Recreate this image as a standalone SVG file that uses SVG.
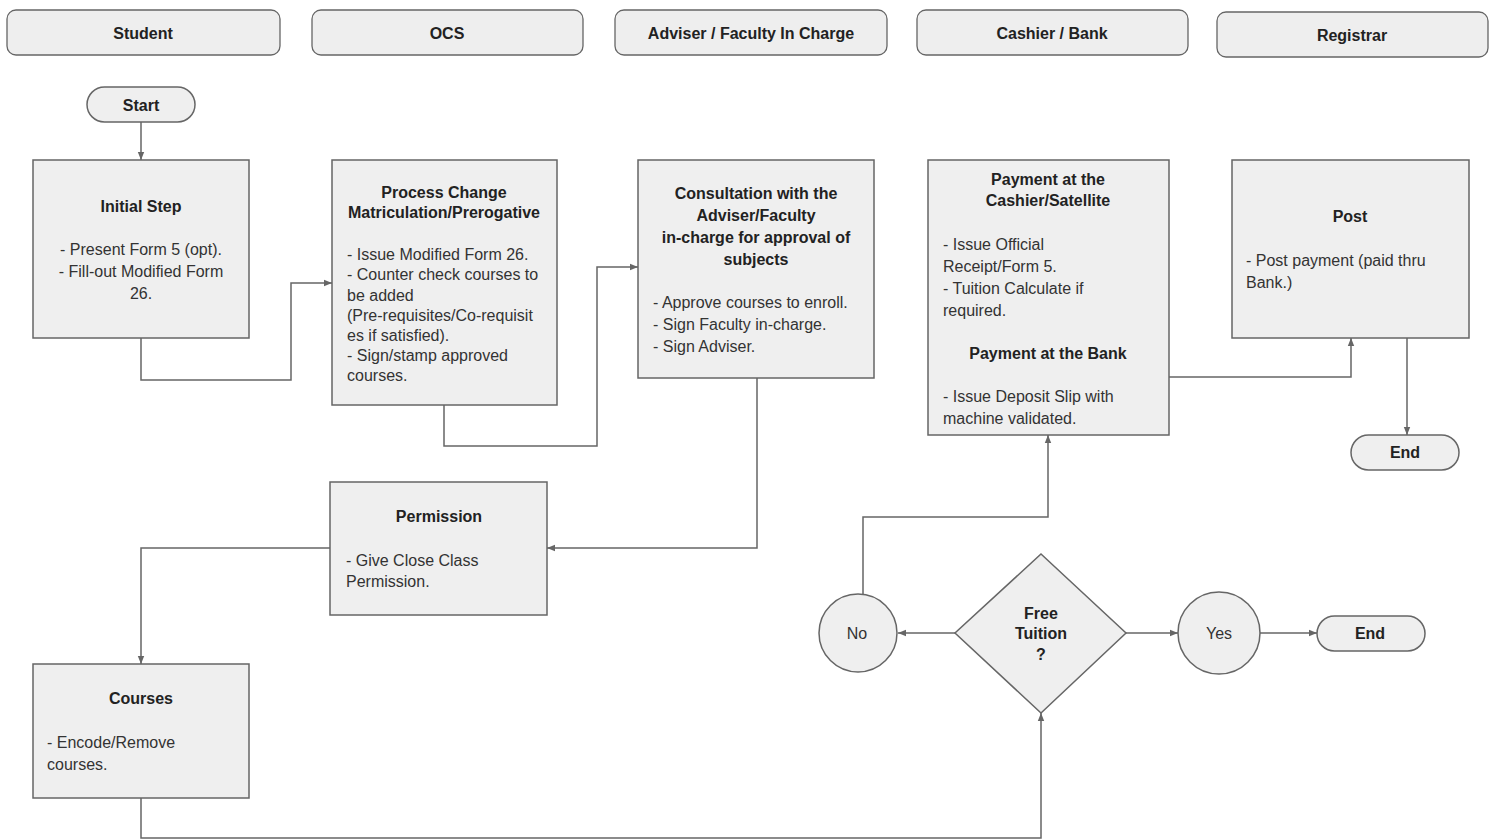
<svg xmlns="http://www.w3.org/2000/svg" width="1494" height="840" viewBox="0 0 1494 840">
<defs>
<marker id="arr" viewBox="0 0 10 10" refX="10" refY="5" markerWidth="8" markerHeight="8" markerUnits="userSpaceOnUse" orient="auto">
<path d="M0,1 L10,5 L0,9 z" fill="#666"/>
</marker>
</defs>
<style>
.box{fill:#efefef;stroke:#666;stroke-width:1.5}
.hdr{fill:#eeeeee;stroke:#666;stroke-width:1.3}
.t{font-family:"Liberation Sans",Arial,sans-serif;font-size:16px;fill:#222;dominant-baseline:central}
.b{font-weight:bold;text-anchor:middle}
.c{text-anchor:middle}
.n{fill:#333}
.con{fill:none;stroke:#666;stroke-width:1.5;marker-end:url(#arr)}
</style>
<rect width="1494" height="840" fill="#fff"/>
<g id="lanes">
<g id="lane-student"><rect class="hdr" x="7" y="10" width="273" height="45" rx="9"/><text class="t b" x="143" y="33">Student</text></g>
<g id="lane-ocs"><rect class="hdr" x="312" y="10" width="271" height="45" rx="9"/><text class="t b" x="447" y="33">OCS</text></g>
<g id="lane-adviser"><rect class="hdr" x="615" y="10" width="272" height="45" rx="9"/><text class="t b" x="751" y="33">Adviser / Faculty In Charge</text></g>
<g id="lane-cashier"><rect class="hdr" x="917" y="10" width="271" height="45" rx="9"/><text class="t b" x="1052" y="33">Cashier / Bank</text></g>
<g id="lane-registrar"><rect class="hdr" x="1217" y="12" width="271" height="45" rx="9"/><text class="t b" x="1352" y="35">Registrar</text></g>
</g>
<g id="connectors">
<path class="con" d="M141,122 L141,160"/>
<path class="con" d="M141,338 L141,380 L291,380 L291,283 L332,283"/>
<path class="con" d="M444,405 L444,446 L597,446 L597,267 L638,267"/>
<path class="con" d="M757,378 L757,548 L547,548"/>
<path class="con" d="M330,548 L141,548 L141,664"/>
<path class="con" d="M141,798 L141,838 L1041,838 L1041,713"/>
<path class="con" d="M955,633 L898,633"/>
<path class="con" d="M1126,633 L1178,633"/>
<path class="con" d="M1260,633 L1317,633"/>
<path class="con" d="M863,595 L863,517 L1048,517 L1048,435"/>
<path class="con" d="M1169,377 L1351,377 L1351,338"/>
<path class="con" d="M1407,338 L1407,435"/>
</g>
<g id="start"><rect class="box" x="87" y="87" width="108" height="35" rx="17.5"/><text class="t b" x="141" y="105">Start</text></g>
<g id="initial-step"><rect class="box" x="33" y="160" width="216" height="178"/>
<text class="t b" x="141" y="206">Initial Step</text>
<text class="t c n" x="141" y="249">- Present Form 5 (opt).</text>
<text class="t c n" x="141" y="271">- Fill-out Modified Form</text>
<text class="t c n" x="141" y="293">26.</text></g>
<g id="process-change"><rect class="box" x="332" y="160" width="225" height="245"/>
<text class="t b" x="444" y="192">Process Change</text>
<text class="t b" x="444" y="212">Matriculation/Prerogative</text>
<text class="t n" x="347" y="254">- Issue Modified Form 26.</text>
<text class="t n" x="347" y="274">- Counter check courses to</text>
<text class="t n" x="347" y="295">be added</text>
<text class="t n" x="347" y="315">(Pre-requisites/Co-requisit</text>
<text class="t n" x="347" y="335">es if satisfied).</text>
<text class="t n" x="347" y="355">- Sign/stamp approved</text>
<text class="t n" x="347" y="375">courses.</text></g>
<g id="consultation"><rect class="box" x="638" y="160" width="236" height="218"/>
<text class="t b" x="756" y="193">Consultation with the</text>
<text class="t b" x="756" y="215">Adviser/Faculty</text>
<text class="t b" x="756" y="237">in-charge for approval of</text>
<text class="t b" x="756" y="259">subjects</text>
<text class="t n" x="653" y="302">- Approve courses to enroll.</text>
<text class="t n" x="653" y="324">- Sign Faculty in-charge.</text>
<text class="t n" x="653" y="346">- Sign Adviser.</text></g>
<g id="payment"><rect class="box" x="928" y="160" width="241" height="275"/>
<text class="t b" x="1048" y="179">Payment at the</text>
<text class="t b" x="1048" y="200">Cashier/Satellite</text>
<text class="t n" x="943" y="244">- Issue Official</text>
<text class="t n" x="943" y="266">Receipt/Form 5.</text>
<text class="t n" x="943" y="288">- Tuition Calculate if</text>
<text class="t n" x="943" y="310">required.</text>
<text class="t b" x="1048" y="353">Payment at the Bank</text>
<text class="t n" x="943" y="396">- Issue Deposit Slip with</text>
<text class="t n" x="943" y="418">machine validated.</text></g>
<g id="post"><rect class="box" x="1232" y="160" width="237" height="178"/>
<text class="t b" x="1350" y="216">Post</text>
<text class="t n" x="1246" y="260">- Post payment (paid thru</text>
<text class="t n" x="1246" y="282">Bank.)</text></g>
<g id="end-registrar"><rect class="box" x="1351" y="435" width="108" height="35" rx="17.5"/><text class="t b" x="1405" y="452">End</text></g>
<g id="permission"><rect class="box" x="330" y="482" width="217" height="133"/>
<text class="t b" x="439" y="516">Permission</text>
<text class="t n" x="346" y="560">- Give Close Class</text>
<text class="t n" x="346" y="581">Permission.</text></g>
<g id="courses"><rect class="box" x="33" y="664" width="216" height="134"/>
<text class="t b" x="141" y="698">Courses</text>
<text class="t n" x="47" y="742">- Encode/Remove</text>
<text class="t n" x="47" y="764">courses.</text></g>
<g id="free-tuition"><polygon class="box" points="1041,554 1126,633 1041,713 955,633"/>
<text class="t b" x="1041" y="613">Free</text>
<text class="t b" x="1041" y="633">Tuition</text>
<text class="t b" x="1041" y="654">?</text></g>
<g id="no"><circle class="box" cx="858" cy="633" r="39"/><text class="t c n" x="857" y="633">No</text></g>
<g id="yes"><circle class="box" cx="1219" cy="633" r="41"/><text class="t c n" x="1219" y="633">Yes</text></g>
<g id="end-yes"><rect class="box" x="1317" y="616" width="108" height="35" rx="17.5"/><text class="t b" x="1370" y="633">End</text></g>
</svg>
